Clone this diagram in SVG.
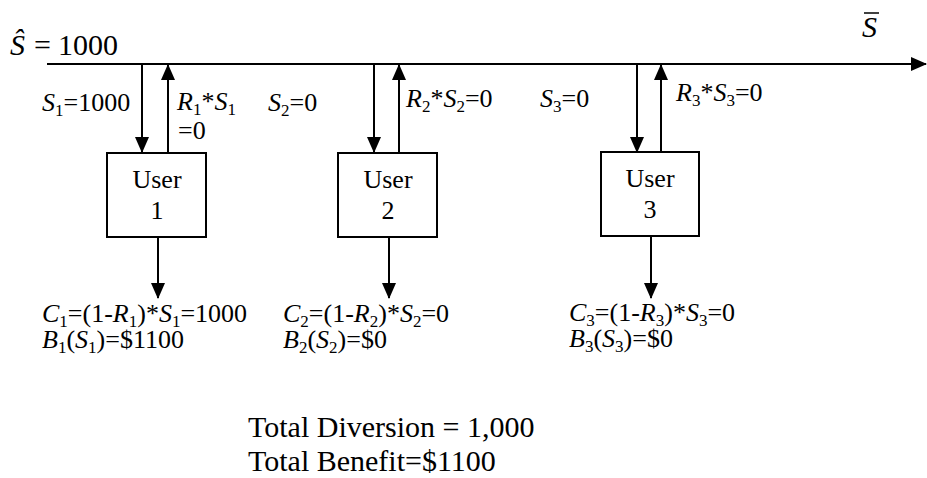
<svg xmlns="http://www.w3.org/2000/svg" width="927" height="478" viewBox="0 0 927 478">
<style>
svg text, g text, g tspan{font-family:'Liberation Serif', serif}
.l{font-size:26px}
.i{font-style:italic}
.s{font-size:17px}
.t{font-size:30px}
.box{fill:#fff;stroke:#000;stroke-width:2}
.c line{stroke:#000;stroke-width:2}
</style>
<defs>
<marker id="ah" markerWidth="16" markerHeight="14" refX="15" refY="7" orient="auto" markerUnits="userSpaceOnUse"><path d="M0,0 L16,7 L0,14 z" fill="#000"/></marker>
</defs>
<g id="connectors" class="c">
<line x1="47" y1="64" x2="926" y2="64" marker-end="url(#ah)"/>
<line x1="142" y1="64" x2="142" y2="152" marker-end="url(#ah)"/>
<line x1="168" y1="153" x2="168" y2="65" marker-end="url(#ah)"/>
<line x1="158" y1="237" x2="158" y2="298" marker-end="url(#ah)"/>
<line x1="374" y1="64" x2="374" y2="152" marker-end="url(#ah)"/>
<line x1="399" y1="153" x2="399" y2="65" marker-end="url(#ah)"/>
<line x1="389" y1="237" x2="389" y2="298" marker-end="url(#ah)"/>
<line x1="637" y1="64" x2="637" y2="152" marker-end="url(#ah)"/>
<line x1="661" y1="152" x2="661" y2="65" marker-end="url(#ah)"/>
<line x1="651" y1="236" x2="651" y2="298" marker-end="url(#ah)"/>
</g>
<g id="user1">
<rect class="box" x="107" y="153" width="99" height="84"/>
<text style="font-family:'Liberation Serif',serif" class="l" x="157" y="188" text-anchor="middle">User</text>
<text style="font-family:'Liberation Serif',serif" class="l" x="157" y="219" text-anchor="middle">1</text>
</g>
<g id="user2">
<rect class="box" x="338" y="153" width="99" height="84"/>
<text style="font-family:'Liberation Serif',serif" class="l" x="388" y="188" text-anchor="middle">User</text>
<text style="font-family:'Liberation Serif',serif" class="l" x="388" y="219" text-anchor="middle">2</text>
</g>
<g id="user3">
<rect class="box" x="601" y="152" width="98" height="84"/>
<text style="font-family:'Liberation Serif',serif" class="l" x="650" y="187" text-anchor="middle">User</text>
<text style="font-family:'Liberation Serif',serif" class="l" x="650" y="218" text-anchor="middle">3</text>
</g>
<g id="labels">
<text style="font-family:'Liberation Serif',serif;font-size:30px" y="55"><tspan class="i" x="10">Ŝ</tspan><tspan x="34">=</tspan><tspan x="58">1000</tspan></text>
<text style="font-family:'Liberation Serif',serif;font-size:30px" class="i" x="862" y="37">S</text>
<line x1="864" y1="13" x2="879" y2="13" stroke="#000" stroke-width="1.5"/>
<text style="font-family:'Liberation Serif',serif" class="l" x="42" y="111"><tspan class="i">S</tspan><tspan class="s" dy="5">1</tspan><tspan dy="-5">=1000</tspan></text>
<text style="font-family:'Liberation Serif',serif" class="l" x="177" y="110"><tspan class="i">R</tspan><tspan class="s" dy="5">1</tspan><tspan dy="-5">*</tspan><tspan class="i">S</tspan><tspan class="s" dy="5">1</tspan></text>
<text style="font-family:'Liberation Serif',serif" class="l" x="178" y="139">=0</text>
<text style="font-family:'Liberation Serif',serif" class="l" x="268" y="111"><tspan class="i">S</tspan><tspan class="s" dy="5">2</tspan><tspan dy="-5">=0</tspan></text>
<text style="font-family:'Liberation Serif',serif" class="l" x="406" y="107"><tspan class="i">R</tspan><tspan class="s" dy="5">2</tspan><tspan dy="-5">*</tspan><tspan class="i">S</tspan><tspan class="s" dy="5">2</tspan><tspan dy="-5">=0</tspan></text>
<text style="font-family:'Liberation Serif',serif" class="l" x="540" y="107"><tspan class="i">S</tspan><tspan class="s" dy="5">3</tspan><tspan dy="-5">=0</tspan></text>
<text style="font-family:'Liberation Serif',serif" class="l" x="676" y="101"><tspan class="i">R</tspan><tspan class="s" dy="5">3</tspan><tspan dy="-5">*</tspan><tspan class="i">S</tspan><tspan class="s" dy="5">3</tspan><tspan dy="-5">=0</tspan></text>
<text style="font-family:'Liberation Serif',serif" class="l" x="42" y="322"><tspan class="i">C</tspan><tspan class="s" dy="5">1</tspan><tspan dy="-5">=(1-</tspan><tspan class="i">R</tspan><tspan class="s" dy="5">1</tspan><tspan dy="-5">)*</tspan><tspan class="i">S</tspan><tspan class="s" dy="5">1</tspan><tspan dy="-5">=1000</tspan></text>
<text style="font-family:'Liberation Serif',serif" class="l" x="42" y="348"><tspan class="i">B</tspan><tspan class="s" dy="5">1</tspan><tspan dy="-5">(</tspan><tspan class="i">S</tspan><tspan class="s" dy="5">1</tspan><tspan dy="-5">)=$1100</tspan></text>
<text style="font-family:'Liberation Serif',serif" class="l" x="283" y="322"><tspan class="i">C</tspan><tspan class="s" dy="5">2</tspan><tspan dy="-5">=(1-</tspan><tspan class="i">R</tspan><tspan class="s" dy="5">2</tspan><tspan dy="-5">)*</tspan><tspan class="i">S</tspan><tspan class="s" dy="5">2</tspan><tspan dy="-5">=0</tspan></text>
<text style="font-family:'Liberation Serif',serif" class="l" x="283" y="348"><tspan class="i">B</tspan><tspan class="s" dy="5">2</tspan><tspan dy="-5">(</tspan><tspan class="i">S</tspan><tspan class="s" dy="5">2</tspan><tspan dy="-5">)=$0</tspan></text>
<text style="font-family:'Liberation Serif',serif" class="l" x="569" y="321"><tspan class="i">C</tspan><tspan class="s" dy="5">3</tspan><tspan dy="-5">=(1-</tspan><tspan class="i">R</tspan><tspan class="s" dy="5">3</tspan><tspan dy="-5">)*</tspan><tspan class="i">S</tspan><tspan class="s" dy="5">3</tspan><tspan dy="-5">=0</tspan></text>
<text style="font-family:'Liberation Serif',serif" class="l" x="569" y="347"><tspan class="i">B</tspan><tspan class="s" dy="5">3</tspan><tspan dy="-5">(</tspan><tspan class="i">S</tspan><tspan class="s" dy="5">3</tspan><tspan dy="-5">)=$0</tspan></text>
<text style="font-family:'Liberation Serif',serif" class="t" x="248" y="437">Total Diversion = 1,000</text>
<text style="font-family:'Liberation Serif',serif" class="t" x="248" y="471">Total Benefit=$1100</text>
</g>
</svg>
